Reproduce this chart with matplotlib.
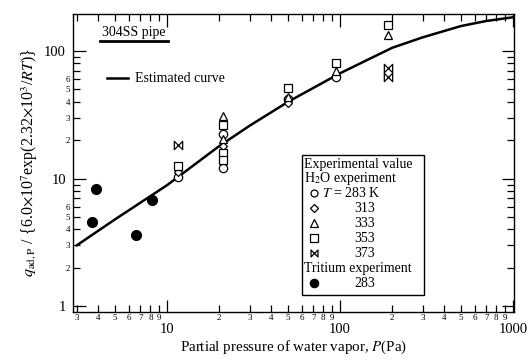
import matplotlib
matplotlib.use("Agg")
import matplotlib.pyplot as plt
from matplotlib.path import Path
from matplotlib.patches import Rectangle
from matplotlib.ticker import FixedLocator, FuncFormatter

plt.rcParams["font.family"] = ["Liberation Serif", "DejaVu Serif"]
plt.rcParams["mathtext.fontset"] = "stix"

# estimated curve
curve_p = [3, 5, 10, 20, 30, 50, 100, 200, 300, 500, 700, 1000]
curve_q = [3.0, 4.8, 8.9, 18.0, 26.0, 40.0, 67.0, 106.0, 128.0, 157.0, 172.0, 184.0]

# H2O experiment
p283 = [11.5, 21, 21, 50, 95]
q283 = [10.3, 22.5, 12.1, 42, 63]
p313 = [11.5, 21, 50]
q313 = [11.2, 17.9, 39]
p333 = [21, 21, 50, 95, 189]
q333 = [31, 20.5, 44, 70, 133]
p353 = [11.5, 21, 21, 21, 50, 95, 189]
q353 = [12.6, 26.4, 15.9, 14.1, 51, 81, 160]
p373 = [11.5, 189, 189]
q373 = [18.4, 73, 63]

# tritium experiment
p_tri = [3.67, 3.89, 6.6, 8.2]
q_tri = [4.6, 8.3, 3.6, 6.8]

bowtie = Path([(-1, 1), (1, -1), (1, 1), (-1, -1), (-1, 1)],
              [Path.MOVETO, Path.LINETO, Path.LINETO, Path.LINETO, Path.CLOSEPOLY])

fig = plt.figure(figsize=(5.28, 3.6), dpi=100)
ax = fig.add_axes([0.138, 0.133, 0.835, 0.828])

ax.plot(curve_p, curve_q, color="black", lw=1.8, zorder=2)

op = dict(ls="none", mfc="white", mec="black", mew=0.9, zorder=3)
ax.plot(p283, q283, marker="o", ms=6, **op)
ax.plot(p313, q313, marker="D", ms=4.5, **op)
ax.plot(p333, q333, marker="^", ms=6, **op)
ax.plot(p353, q353, marker="s", ms=6, **op)
ax.plot(p373, q373, marker=bowtie, ms=6, **op)
ax.plot(p_tri, q_tri, ls="none", marker="o", ms=7, color="black", zorder=3)

ax.set_xscale("log")
ax.set_yscale("log")
ax.set_xlim(2.85, 1010)
ax.set_ylim(0.9, 195)

# ticks
ax.xaxis.set_major_locator(FixedLocator([10, 100, 1000]))
ax.xaxis.set_minor_locator(FixedLocator([m * d for d in (1, 10, 100) for m in range(2, 10)]))
ax.yaxis.set_major_locator(FixedLocator([1, 10, 100]))
ax.yaxis.set_minor_locator(FixedLocator([m * d for d in (1, 10, 100) for m in range(2, 10)]))

ax.xaxis.set_major_formatter(FuncFormatter(lambda v, pos: "%d" % round(v)))
ax.yaxis.set_major_formatter(FuncFormatter(lambda v, pos: "%d" % round(v)))


def lead(v):
    s = "%d" % round(v)
    return s[0]


ax.xaxis.set_minor_formatter(FuncFormatter(lambda v, pos: lead(v)))
ax.yaxis.set_minor_formatter(FuncFormatter(lambda v, pos: lead(v) if (lead(v) in "23456" and v < 100) else ""))

ax.tick_params(which="both", direction="in", top=True, right=True, width=0.9, colors="black")
ax.tick_params(which="major", length=9)
ax.tick_params(which="minor", length=5)
ax.tick_params(axis="x", which="major", labelsize=10.5, pad=8)
ax.tick_params(axis="x", which="minor", labelsize=6.5, pad=1)
ax.tick_params(axis="y", which="major", labelsize=10.5, pad=5)
ax.tick_params(axis="y", which="minor", labelsize=6.5, pad=2)
for s in ax.spines.values():
    s.set_linewidth(1.0)

ax.set_xlabel("Partial pressure of water vapor, $P$(Pa)", fontsize=10.8, labelpad=2)
ax.set_ylabel(r"$q_{\mathrm{ad,P}}$ / {6.0$\times$10$^7$exp(2.32$\times$10$^3$/$RT$)}",
              fontsize=11.5, labelpad=3)


def fx(px):
    return (px - 73) / 441.0


def fy(py):
    return (312 - py) / 298.0


# 304SS pipe label
ax.text(fx(134), fy(32), "304SS pipe", transform=ax.transAxes, ha="center", va="center", fontsize=10)
ax.plot([fx(100), fx(168)], [fy(41), fy(41)], transform=ax.transAxes, color="black", lw=2)

# estimated curve key
ax.plot([fx(107), fx(128)], [fy(78), fy(78)], transform=ax.transAxes, color="black", lw=1.8)
ax.text(fx(135), fy(78), "Estimated curve", transform=ax.transAxes, ha="left", va="center", fontsize=10)

# legend box
ax.add_patch(Rectangle((fx(302), fy(295)), fx(424) - fx(302), fy(155) - fy(295),
                       transform=ax.transAxes, fill=True, fc="white", ec="black", lw=1.0, zorder=4))
tk = dict(transform=ax.transAxes, va="center", fontsize=10, zorder=5)
ax.text(fx(304), fy(164), "Experimental value", ha="left", **tk)
ax.text(fx(304), fy(178.5), r"H$_2$O experiment", ha="left", **tk)
ax.text(fx(322), fy(193), r"$T$ = 283 K", ha="left", **tk)
ax.text(fx(365), fy(208), "313", ha="center", **tk)
ax.text(fx(365), fy(223), "333", ha="center", **tk)
ax.text(fx(365), fy(238), "353", ha="center", **tk)
ax.text(fx(365), fy(253), "373", ha="center", **tk)
ax.text(fx(304), fy(268), "Tritium experiment", ha="left", **tk)
ax.text(fx(365), fy(283), "283", ha="center", **tk)

mk = dict(transform=ax.transAxes, ls="none", mec="black", mew=0.9, zorder=5, clip_on=False)
ax.plot(fx(314), fy(193), marker="o", ms=5, mfc="white", **mk)
ax.plot(fx(314), fy(208), marker="D", ms=4, mfc="white", **mk)
ax.plot(fx(314), fy(223), marker="^", ms=5.5, mfc="white", **mk)
ax.plot(fx(314), fy(238), marker="s", ms=5.5, mfc="white", **mk)
ax.plot(fx(314), fy(253), marker=bowtie, ms=5, mfc="white", **mk)
ax.plot(fx(314), fy(283), marker="o", ms=6, mfc="black", **mk)

fig.savefig("out.png", dpi=100)
